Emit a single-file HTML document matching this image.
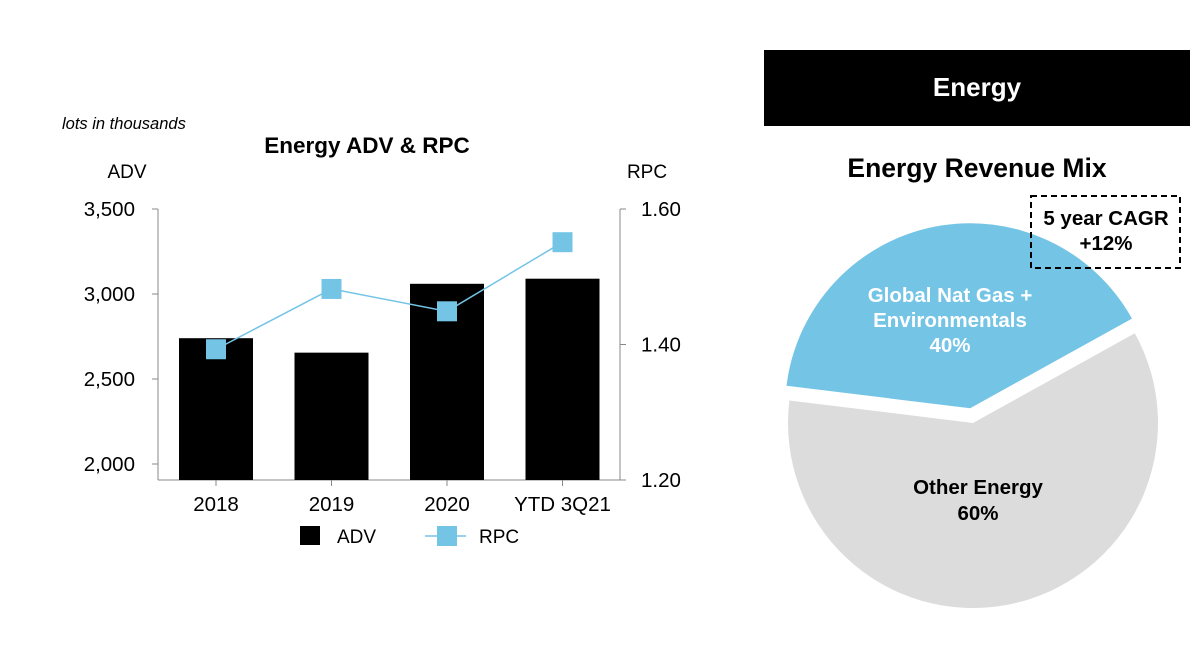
<!DOCTYPE html>
<html><head><meta charset="utf-8"><style>
body{margin:0;background:#fff;font-family:"Liberation Sans",sans-serif;}
svg text{font-family:"Liberation Sans",sans-serif;}
</style></head><body>
<svg width="1200" height="642" viewBox="0 0 1200 642">
<text x="62" y="129" font-size="16.5" font-style="italic" fill="#000">lots in thousands</text>
<text x="367" y="153" font-size="22.5" font-weight="bold" text-anchor="middle">Energy ADV &amp; RPC</text>
<text x="127" y="178" font-size="19" text-anchor="middle">ADV</text>
<text x="647" y="178" font-size="19" text-anchor="middle">RPC</text>
<g id="chart"></g>
<g>
<rect x="300" y="526" width="20" height="19" fill="#000"/>
<text x="337" y="543" font-size="19">ADV</text>
<line x1="425" y1="536" x2="466" y2="536" stroke="#74c4e6" stroke-width="1.5"/>
<rect x="437" y="526" width="20" height="20" fill="#74c4e6"/>
<text x="479" y="543" font-size="19">RPC</text>
</g>
<rect x="764" y="50" width="426" height="76" fill="#000"/>
<text x="977" y="96" font-size="26" font-weight="bold" fill="#fff" text-anchor="middle">Energy</text>
<text x="977" y="177" font-size="26.5" font-weight="bold" text-anchor="middle">Energy Revenue Mix</text>
<g id="pie"></g>
<text x="950" y="302" font-size="20.5" font-weight="bold" fill="#fff" text-anchor="middle"><tspan x="950" dy="0">Global Nat Gas +</tspan><tspan x="950" dy="25">Environmentals</tspan><tspan x="950" dy="25">40%</tspan></text>
<text x="978" y="494" font-size="20.5" font-weight="bold" text-anchor="middle"><tspan x="978" dy="0">Other Energy</tspan><tspan x="978" dy="26">60%</tspan></text>
<rect x="1031" y="196" width="149" height="72" fill="none" stroke="#000" stroke-width="2" stroke-dasharray="6,4"/>
<text x="1106" y="225" font-size="20.5" font-weight="bold" text-anchor="middle"><tspan x="1106" dy="0">5 year CAGR</tspan><tspan x="1106" dy="25">+12%</tspan></text>
</svg>
<script>
const categories=["2018","2019","2020","YTD 3Q21"];
const advValues=[2740,2655,3060,3090];
const rpcValues=[1.393,1.482,1.449,1.551];
const advTicks=[2000,2500,3000,3500];
const advTickLabels=["2,000","2,500","3,000","3,500"];
const rpcTicks=[1.2,1.4,1.6];
const rpcTickLabels=["1.20","1.40","1.60"];
const pieShares=[40,60];
const pieNames=["gas-environmentals","other-energy"];
const NS="http://www.w3.org/2000/svg";
function mk(t,a,p){const e=document.createElementNS(NS,t);for(const k in a)e.setAttribute(k,a[k]);p.appendChild(e);return e;}
const g=document.getElementById('chart');
const yL=v=>209+(3500-v)/500*85;
const yR=v=>480-(v-1.2)/0.4*271;
const xC=i=>216+i*115.5;
const L=158,R=620,B=480;
let ax=mk('line',{x1:L,y1:209,x2:L,y2:B,stroke:'#888'},g);

let bx=mk('line',{x1:L,y1:B,x2:R,y2:B,stroke:'#888'},g);

advTicks.forEach((v,i)=>{const y=yL(v);
 const t=mk('line',{x1:L-6,y1:y,x2:L,y2:y,stroke:'#888'},g);
 
 const tx=mk('text',{x:L-23,y:y+7,'font-size':20.5,'text-anchor':'end'},g);tx.textContent=advTickLabels[i];
 });
let ar=mk('line',{x1:R,y1:209,x2:R,y2:B,stroke:'#888'},g);

rpcTicks.forEach((v,i)=>{const y=yR(v);
 const t=mk('line',{x1:R,y1:y,x2:R+6,y2:y,stroke:'#888'},g);
 
 const tx=mk('text',{x:R+21,y:y+7,'font-size':20.5},g);tx.textContent=rpcTickLabels[i];
 });
categories.forEach((c,i)=>{
 const y=yL(advValues[i]);
 const b=mk('rect',{x:xC(i)-37,y:y,width:74,height:B-y,fill:'#000'},g);
 
 const tk=mk('line',{x1:xC(i),y1:B,x2:xC(i),y2:B+6,stroke:'#888'},g);
 
 const tx=mk('text',{x:xC(i),y:511,'font-size':20.5,'text-anchor':'middle'},g);tx.textContent=c;
 });
const pl=mk('polyline',{points:rpcValues.map((v,i)=>xC(i)+','+yR(v)).join(' '),fill:'none',stroke:'#74c4e6','stroke-width':1.5},g);

rpcValues.forEach((v,i)=>{const m=mk('rect',{x:xC(i)-10,y:yR(v)-10,width:20,height:20,fill:'#74c4e6'},g);
 });
const pg=document.getElementById('pie');
const cx=973,cy=423,r=185;
const colors=['#74c4e6','#dcdcdd'];
const total=pieShares.reduce((a,b)=>a+b,0);
let a0=-29*Math.PI/180;
pieShares.forEach((s,i)=>{
 const sweep=s/total*2*Math.PI;
 let start,end;
 if(i===0){start=a0-sweep;end=a0;}else{start=a0;end=a0+sweep;}
 const mid=(start+end)/2, off=i===0?15:0;
 const ox=cx+off*Math.cos(mid), oy=cy+off*Math.sin(mid);
 const x1=ox+r*Math.cos(start),y1=oy+r*Math.sin(start),x2=ox+r*Math.cos(end),y2=oy+r*Math.sin(end);
 const p=mk('path',{d:`M${ox},${oy} L${x1},${y1} A${r},${r} 0 ${sweep>Math.PI?1:0} 1 ${x2},${y2} Z`,fill:colors[i]},pg);
 
});
</script>
</body></html>
